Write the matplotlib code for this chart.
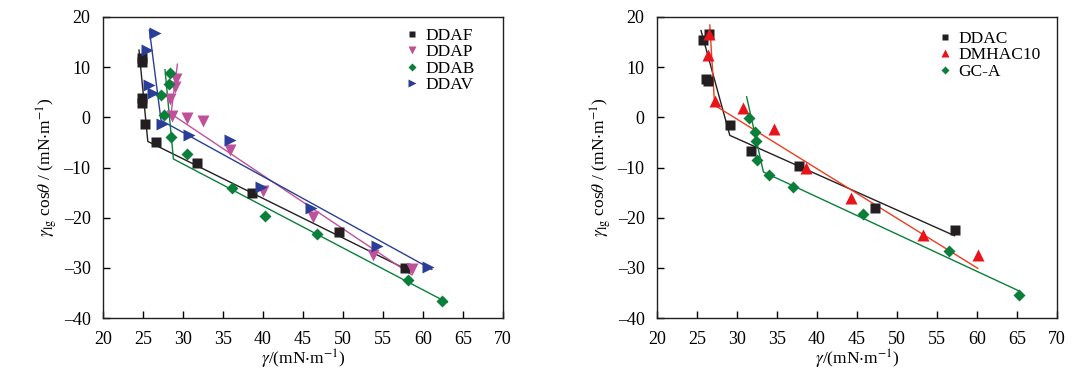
import matplotlib
matplotlib.use("Agg")
import matplotlib.pyplot as plt

plt.rcParams['font.family'] = ['Liberation Serif', 'DejaVu Serif']
plt.rcParams['mathtext.fontset'] = 'stix'

# ---------- left panel data ----------
ddaf_x = [24.9, 24.9, 24.9, 24.9, 25.3, 26.6, 31.8, 38.6, 49.5, 57.8]
ddaf_y = [11.8, 11.0, 3.8, 2.8, -1.3, -4.9, -9.1, -15.1, -22.9, -30.1]
ddaf_fit_x = [24.5, 25.6, 58.3]
ddaf_fit_y = [13.4, -4.8, -30.6]

ddap_x = [29.1, 29.0, 28.4, 28.6, 30.5, 32.5, 35.9, 40.0, 46.3, 53.7, 58.6]
ddap_y = [7.6, 6.1, 3.7, 0.2, -0.1, -0.8, -6.6, -14.6, -19.8, -27.4, -30.3]
ddap_fit_x = [29.3, 28.5, 58.6]
ddap_fit_y = [10.6, 0.7, -31.4]

ddab_x = [28.4, 28.3, 27.3, 27.6, 28.5, 30.5, 36.1, 40.3, 46.8, 58.1, 62.4]
ddab_y = [8.9, 6.7, 4.4, 0.5, -3.9, -7.3, -14.1, -19.7, -23.3, -32.5, -36.7]
ddab_fit_x = [27.75, 28.8, 63.0]
ddab_fit_y = [9.5, -8.3, -36.9]

ddav_x = [26.5, 25.5, 25.7, 26.3, 27.4, 30.75, 35.9, 39.75, 46.0, 54.3, 60.6]
ddav_y = [16.9, 13.4, 6.4, 4.9, -1.3, -3.6, -4.6, -13.8, -18.1, -25.6, -29.9]
ddav_fit_x = [25.8, 27.25, 61.1]
ddav_fit_y = [17.4, -0.6, -30.3]

# ---------- right panel data ----------
ddac_x = [25.8, 26.5, 26.1, 26.4, 29.1, 31.75, 37.7, 47.25, 57.2]
ddac_y = [15.5, 16.6, 7.7, 7.2, -1.6, -6.8, -9.7, -18.1, -22.5]
ddac_fit_x = [25.5, 29.1, 57.2]
ddac_fit_y = [17.3, -3.6, -23.6]

dmhac_x = [26.5, 26.4, 27.25, 30.8, 34.6, 38.6, 44.3, 53.2, 60.1]
dmhac_y = [16.7, 12.5, 3.3, 1.9, -2.4, -10.1, -16.1, -23.4, -27.4]
dmhac_fit_x = [26.6, 27.2, 60.1]
dmhac_fit_y = [18.4, 2.4, -30.1]

gca_x = [31.5, 32.2, 32.4, 32.5, 34.0, 37.0, 45.8, 56.5, 65.25]
gca_y = [-0.1, -2.9, -4.7, -8.5, -11.4, -13.8, -19.3, -26.6, -35.4]
gca_fit_x = [31.2, 33.3, 65.25]
gca_fit_y = [4.1, -10.9, -34.6]

x_ticks = [20, 25, 30, 35, 40, 45, 50, 55, 60, 65, 70]
y_ticks = [-40, -30, -20, -10, 0, 10, 20]

xlabel = r'$\gamma$/(mN$\cdot$m$^{-1}$)'
ylabel = r'$\gamma_{\rm lg}$ cos$\theta$ / (mN$\cdot$m$^{-1}$)'

c_black = '#231f20'
c_pink = '#c0509a'
c_green = '#0a7f3a'
c_blue = '#2a3e98'
c_red = '#e8141c'
c_redline = '#f03c1e'

fig = plt.figure(figsize=(10.81, 3.82), dpi=100)
axL = fig.add_axes([0.0953, 0.1675, 0.370, 0.788])
axR = fig.add_axes([0.6078, 0.1675, 0.370, 0.788])

lw = 1.0

def style(ax):
    ax.set_xlim(20, 70)
    ax.set_ylim(-40, 20)
    ax.set_xticks(x_ticks)
    ax.set_yticks(y_ticks)
    ax.tick_params(direction='in', length=5, width=1, labelsize=13, pad=9)
    ax.set_yticklabels([str(v).replace('-', '\u2013') for v in y_ticks])
    for s in ax.spines.values():
        s.set_linewidth(1.0)
        s.set_color(c_black)
    ax.set_xlabel(xlabel, fontsize=12.5, labelpad=0)
    ax.set_ylabel(ylabel, fontsize=12.5, labelpad=3)

def add_legend(ax, x0, y0):
    ax.legend(loc='upper left', frameon=False, fontsize=12.5, markerscale=0.65,
              handlelength=0.6, handletextpad=0.45, labelspacing=0.0,
              borderpad=0.0, borderaxespad=0.0, bbox_to_anchor=(x0, y0))

# left
axL.plot(ddaf_fit_x, ddaf_fit_y, color=c_black, lw=lw)
axL.plot(ddap_fit_x, ddap_fit_y, color=c_pink, lw=lw)
axL.plot(ddab_fit_x, ddab_fit_y, color=c_green, lw=lw)
axL.plot(ddav_fit_x, ddav_fit_y, color=c_blue, lw=lw)
axL.plot(ddaf_x, ddaf_y, 's', color=c_black, ms=6.5, mec='none', label='DDAF')
axL.plot(ddap_x, ddap_y, 'v', color=c_pink, ms=8, mec='none', label='DDAP')
axL.plot(ddab_x, ddab_y, 'D', color=c_green, ms=6.5, mec='none', label='DDAB')
axL.plot(ddav_x, ddav_y, '>', color=c_blue, ms=8, mec='none', label='DDAV')
style(axL)
add_legend(axL, 0.76, 0.963)

# right
axR.plot(ddac_fit_x, ddac_fit_y, color=c_black, lw=lw)
axR.plot(dmhac_fit_x, dmhac_fit_y, color=c_redline, lw=lw)
axR.plot(gca_fit_x, gca_fit_y, color=c_green, lw=lw)
axR.plot(ddac_x, ddac_y, 's', color=c_black, ms=6.5, mec='none', label='DDAC')
axR.plot(dmhac_x, dmhac_y, '^', color=c_red, ms=8, mec='none', label='DMHAC10')
axR.plot(gca_x, gca_y, 'D', color=c_green, ms=6.5, mec='none', label='GC-A')
style(axR)
add_legend(axR, 0.7075, 0.953)

fig.savefig('out.png', dpi=100)
